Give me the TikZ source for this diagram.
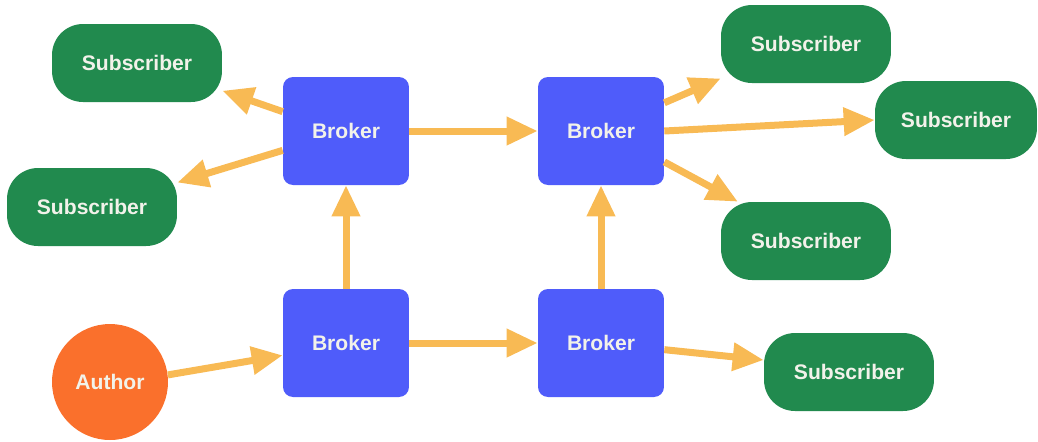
\documentclass[tikz,border=0pt]{standalone}
\usepackage{fontspec}
\setmainfont{Liberation Sans}
\usepackage{tikz}
\usetikzlibrary{arrows.meta}
\usepackage{xcolor}

\definecolor{brokerblue}{RGB}{79,92,250}
\definecolor{subgreen}{RGB}{33,138,78}
\definecolor{authororange}{RGB}{250,112,44}
\definecolor{flowyellow}{RGB}{248,186,84}
\definecolor{labelwhite}{RGB}{242,242,234}

\tikzset{
  broker/.style={fill=brokerblue, rounded corners=0.2cm, minimum width=2.52cm,
    minimum height=2.16cm, text=labelwhite, font=\bfseries\fontsize{12}{14}\selectfont},
  subscriber/.style={fill=subgreen, rounded corners=0.62cm, minimum width=3.4cm,
    minimum height=1.56cm, text=labelwhite, font=\bfseries\fontsize{12}{14}\selectfont},
  author/.style={circle, fill=authororange, minimum size=2.32cm, inner sep=0pt,
    text=labelwhite, font=\bfseries\fontsize{12}{14}\selectfont},
  flow/.style={flowyellow, line width=0.14cm,
    -{Triangle[length=0.62cm, width=0.54cm]}}
}

\begin{document}
\begin{tikzpicture}[x=0.02cm, y=-0.02cm]
  \useasboundingbox (0,0) rectangle (1038,441);

  % brokers
  \node[broker] (tl) at (346,131) {Broker};
  \node[broker] (tr) at (601,131) {Broker};
  \node[broker] (bl) at (346,343) {Broker};
  \node[broker] (br) at (601,343) {Broker};

  % subscribers
  \node[subscriber] (s1) at (137,63) {Subscriber};
  \node[subscriber] (s2) at (92,207) {Subscriber};
  \node[subscriber] (s3) at (806,44) {Subscriber};
  \node[subscriber, minimum width=3.24cm] (s4) at (956,120) {Subscriber};
  \node[subscriber] (s5) at (806,241) {Subscriber};
  \node[subscriber] (s6) at (849,372) {Subscriber};

  \node[author] (auth) at (110,382) {Author};

  % flows
  \draw[flow] (auth.7) -- (bl.191);
  \draw[flow] (bl.east) -- (br.west);
  \draw[flow] (bl.north) -- (tl.south);
  \draw[flow] (br.north) -- (tr.south);
  \draw[flow] (tl.east) -- (tr.west);
  \draw[flow] (tl.163) -- (s1.-18);
  \draw[flow] (tl.197) -- (s2.16);
  \draw[flow] (tr.24) -- (s3.202);
  \draw[flow] (tr.east) -- (s4.west);
  \draw[flow] (tr.-26) -- (s5.150);
  \draw[flow] (br.-6) -- (s6.172);
\end{tikzpicture}
\end{document}
